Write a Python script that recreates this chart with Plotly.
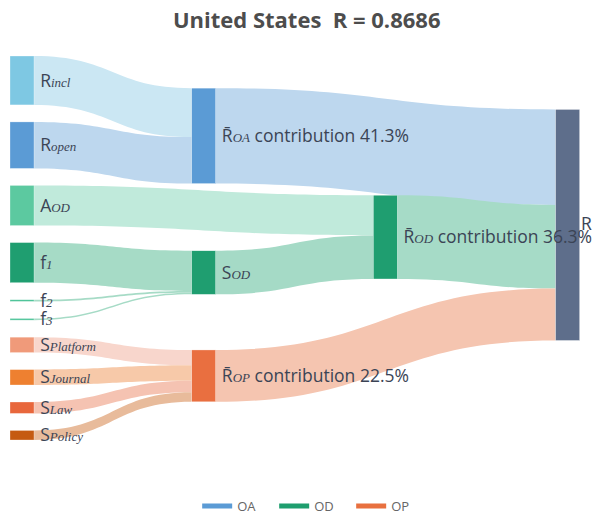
import plotly.graph_objects as go

SERIF = "Liberation Serif"
PAD = "\u2009"

def sub(base, s):
    return (f'{PAD}{base}<i><span style="font-family:{SERIF};font-size:13px">'
            f'{s}</span></i>')

RBAR = "R\u0304"

# ---- data ----
node_labels = [
    sub("R", "incl"), sub("R", "open"), sub("A", "OD"),
    sub("f", "1"), sub("f", "2"), sub("f", "3"),
    sub("S", "Platform"), sub("S", "Journal"), sub("S", "Law"), sub("S", "Policy"),
    "",
    sub(RBAR, "OA") + " contribution 41.3%",
    sub("S", "OD"),
    sub(RBAR, "OP") + " contribution 22.5%",
    sub(RBAR, "OD") + " contribution 36.3%",
]
sink_label = "R"
node_colors = [
    "#7ec8e3", "#5b9bd5", "#5cc9a0",
    "#1f9e70", "#50c49a", "#50c49a",
    "#f09a7a", "#ee8030", "#e8673c", "#c55a11",
    "#5e6e8b", "#5b9bd5", "#1f9e70", "#e96f40", "#1f9e70",
]
# layout hints (relative position inside the sankey domain)
node_x = [None] * 10 + [0.98, 0.342, None, 0.342, None]
node_y = [None] * 10 + [0.44, 0.208, None, 0.833, None]

link_source = [0, 1, 2, 3, 4, 5, 6, 7, 8, 9, 12, 11, 14, 13]
link_target = [11, 11, 14, 12, 12, 12, 13, 13, 13, 13, 14, 10, 10, 10]
link_value = [0.184, 0.175, 0.151, 0.151, 0.0065, 0.0065,
              0.058, 0.058, 0.043, 0.036,
              0.164, 0.359, 0.315, 0.195]
link_colors = [
    "#cbe7f3", "#bdd7ee", "#c0eadb", "#a6dbc6", "#a6dbc6", "#a6dbc6",
    "#f8d6cc", "#f7c9a9", "#f5c3b2", "#e8bb9b",
    "#a5dac6", "#bdd7ee", "#a6dbc7", "#f5c5b0",
]

legend_names = ["OA", "OD", "OP"]
legend_colors = ["#5b9bd5", "#1e9e6e", "#e8703f"]

title_text = "United States\u00a0\u00a0R = 0.8686"

# ---- figure ----
fig = go.Figure()
fig.add_trace(go.Sankey(
    arrangement="snap",
    domain=dict(x=[0, 1], y=[0, 1]),
    node=dict(
        label=node_labels,
        color=node_colors,
        x=node_x, y=node_y,
        pad=17,
        thickness=24,
        line=dict(color="rgba(255,255,255,0.6)", width=0.5),
    ),
    link=dict(source=link_source, target=link_target, value=link_value,
              color=link_colors),
    textfont=dict(family="Open Sans", size=17.5, color="#3b4455", shadow="none"),
))

for name, col in zip(legend_names, legend_colors):
    fig.add_trace(go.Scatter(x=[None], y=[None], mode="lines", name=name,
                             line=dict(color=col, width=5)))

fig.add_annotation(text=sink_label, xref="paper", yref="paper",
                   x=1.0, y=0.565, xanchor="left", yanchor="middle",
                   showarrow=False,
                   font=dict(family="Open Sans", size=17.5, color="#3b4455"))

fig.update_layout(
    width=599, height=514,
    margin=dict(l=10, r=20, t=56, b=74),
    paper_bgcolor="white", plot_bgcolor="white",
    title=dict(text=f"<b>{title_text}</b>", x=0.512, xanchor="center",
               y=1 - 20 / 514, yanchor="middle", yref="container",
               font=dict(family="Open Sans", size=22, color="#4d4d4d")),
    xaxis=dict(visible=False), yaxis=dict(visible=False),
    legend=dict(orientation="h", x=0.522, xanchor="center", xref="container",
                y=1 - 506 / 514, yanchor="middle", yref="container",
                entrywidth=32,
                font=dict(family="Open Sans", size=13, color="#666666")),
    showlegend=True,
)

fig.write_html("out.html", config={"displayModeBar": False},
               post_script="document.body.style.margin='0';")
